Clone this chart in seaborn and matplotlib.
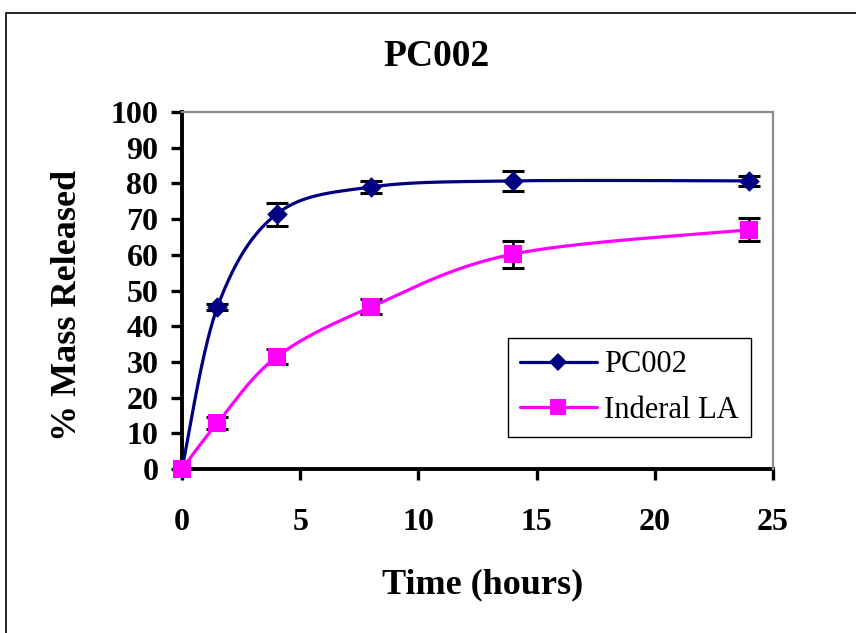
import numpy as np
import pandas as pd
import matplotlib
matplotlib.use("Agg")
import matplotlib.pyplot as plt
import seaborn as sns
from matplotlib.lines import Line2D
from matplotlib.patches import Rectangle

# ---- data ----
time_h = [0, 1.5, 4, 8, 14, 24]
pc002 = [0, 45.4, 71.4, 79.0, 80.7, 80.7]
pc002_err = [0, 0.8, 3.2, 1.7, 2.7, 1.5]
inderal = [0, 12.9, 31.4, 45.4, 60.2, 67.0]
inderal_err = [0, 1.7, 2.1, 2.1, 3.8, 3.2]
series_names = ["PC002", "Inderal LA"]
x_ticks = [0, 5, 10, 15, 20, 25]
y_ticks = [0, 10, 20, 30, 40, 50, 60, 70, 80, 90, 100]
title_text = "PC002"
x_label = "Time (hours)"
y_label = "% Mass Released"

colors = ["#000080", "#FF00FF"]
markers = ["D", "s"]
marker_sizes = [110, 150]

sns.set_theme(style="white")
plt.rcParams["font.family"] = ["Liberation Serif", "DejaVu Serif"]
plt.rcParams["text.color"] = "black"
plt.rcParams["xtick.color"] = "black"
plt.rcParams["ytick.color"] = "black"
plt.rcParams["axes.labelcolor"] = "black"


def excel_smooth(xs, ys, n=40):
    P = np.column_stack([xs, ys]).astype(float)
    m = len(P)
    out = [P[0]]
    for i in range(m - 1):
        p0 = P[max(i - 1, 0)]
        p1 = P[i]
        p2 = P[i + 1]
        p3 = P[min(i + 2, m - 1)]
        c1 = p1 + (p2 - p0) / 6
        c2 = p2 - (p3 - p1) / 6
        t = np.linspace(0, 1, n)[1:, None]
        seg = (1 - t) ** 3 * p1 + 3 * (1 - t) ** 2 * t * c1 + 3 * (1 - t) * t ** 2 * c2 + t ** 3 * p2
        out.extend(seg)
    out = np.array(out)
    return out[:, 0], out[:, 1]


W, H = 856, 633
fig = plt.figure(figsize=(W / 100, H / 100), dpi=100)
fig.patch.set_facecolor("white")
ax = fig.add_axes([182 / W, 1 - 469 / H, (773 - 182) / W, (469 - 112) / H])
ax.set_facecolor("white")

# outer chart frame
fig.add_artist(Rectangle((6 / W, -0.2), 1.2, 1 - 13 / H + 0.2, transform=fig.transFigure,
                         fill=False, edgecolor="black", linewidth=1.2))

all_vals = [pc002, inderal]
all_errs = [pc002_err, inderal_err]
handles = []
for name, vals, errs, c, mk, ms in zip(series_names, all_vals, all_errs, colors, markers, marker_sizes):
    sx, sy = excel_smooth(time_h, vals)
    df_line = pd.DataFrame({"x": sx, "y": sy})
    sns.lineplot(data=df_line, x="x", y="y", sort=False, estimator=None, color=c,
                 linewidth=2.3, ax=ax, zorder=4, clip_on=False)
    mask = np.array(errs) > 0
    ax.errorbar(np.array(time_h)[mask], np.array(vals)[mask], yerr=np.array(errs)[mask],
                fmt="none", ecolor="black", elinewidth=2.0, capsize=8, capthick=2.2, zorder=3)
    df_pts = pd.DataFrame({"x": time_h, "y": vals})
    sns.scatterplot(data=df_pts, x="x", y="y", marker=mk, s=ms, color=c, edgecolor=c,
                    linewidth=0, ax=ax, zorder=6, clip_on=False)
    handles.append(Line2D([], [], color=c, linewidth=2.3, marker=mk,
                          markersize=np.sqrt(ms) * (0.9 if mk == "D" else 0.9),
                          markeredgewidth=0, label=name))

ax.set_xlim(0, 25)
ax.set_ylim(0, 100)
ax.set_xticks(x_ticks)
ax.set_yticks(y_ticks)
ax.set_xticklabels([str(v) for v in x_ticks], fontsize=23, fontweight="bold", color="black")
ax.set_yticklabels([str(v) for v in y_ticks], fontsize=23, fontweight="bold", color="black")
ax.tick_params(axis="y", direction="out", length=8, width=2.4, color="black", pad=9, left=True)
ax.tick_params(axis="x", direction="out", length=8, width=2.4, color="black", pad=20, bottom=True)

for side in ["left", "bottom"]:
    ax.spines[side].set_color("black")
    ax.spines[side].set_linewidth(2.8)
    ax.spines[side].set_zorder(2)
for side in ["top", "right"]:
    ax.spines[side].set_color("#8c8c8c")
    ax.spines[side].set_linewidth(1.6)
    ax.spines[side].set_visible(True)

ax.set_xlabel("")
ax.set_ylabel("")
fig.text(483 / W, 1 - 585 / H, x_label, ha="center", va="center", fontsize=26,
         fontweight="bold", color="black")
fig.text(67 / W, 1 - 305 / H, y_label, ha="center", va="center", rotation=90, fontsize=26,
         fontweight="bold", color="black")
fig.text(437 / W, 1 - 57 / H, title_text, ha="center", va="center", fontsize=27,
         fontweight="bold", color="black")

leg = ax.legend(handles=handles, loc="upper left",
                bbox_to_anchor=((508 - 182) / (773 - 182), (469 - 338) / (469 - 112)),
                frameon=True, fancybox=False, shadow=False, fontsize=22,
                handlelength=2.5, handletextpad=0.25, borderpad=0.4, labelspacing=0.55,
                borderaxespad=0)
for t in leg.get_texts():
    t.set_color("black")
leg.get_frame().set_edgecolor("black")
leg.get_frame().set_linewidth(1.0)
leg.get_frame().set_facecolor("white")
leg.get_frame().set_alpha(1)
leg.set_zorder(10)

fig.savefig("out.png", dpi=100, facecolor="white")
